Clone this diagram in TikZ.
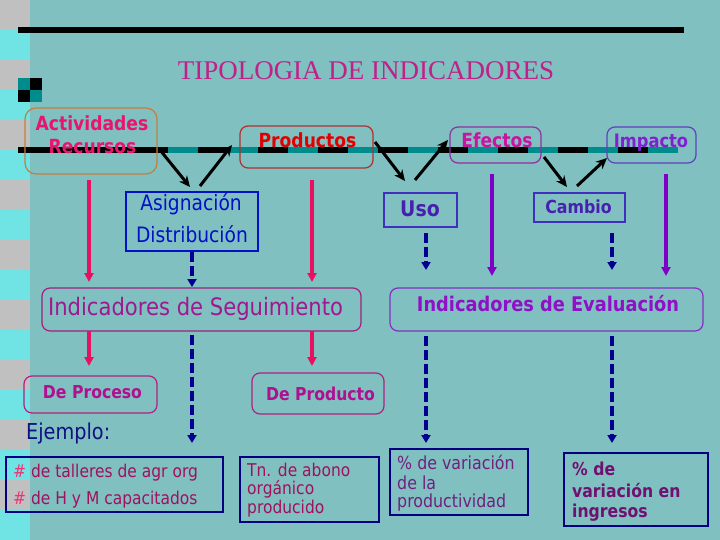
\documentclass[tikz,border=0pt]{standalone}
\usepackage{fontspec}
\setmainfont{Liberation Serif}
\newfontfamily\tah[FakeStretch=0.88]{DejaVu Sans}
\usetikzlibrary{arrows.meta}
\definecolor{bgc}{RGB}{128,192,192}
\definecolor{stripgray}{RGB}{192,192,192}
\definecolor{stripcyan}{RGB}{112,228,228}
\definecolor{tealc}{RGB}{0,140,140}
\definecolor{titlec}{RGB}{192,32,136}
\definecolor{acttxt}{RGB}{232,20,110}
\definecolor{actbrd}{RGB}{192,128,64}
\definecolor{prodtxt}{RGB}{224,0,0}
\definecolor{prodbrd}{RGB}{176,48,48}
\definecolor{efetxt}{RGB}{200,20,160}
\definecolor{efebrd}{RGB}{144,48,160}
\definecolor{imptxt}{RGB}{128,32,208}
\definecolor{impbrd}{RGB}{96,64,192}
\definecolor{asgc}{RGB}{0,16,200}
\definecolor{usotxt}{RGB}{72,32,176}
\definecolor{usobrd}{RGB}{64,48,192}
\definecolor{pinkc}{RGB}{232,16,96}
\definecolor{navyc}{RGB}{0,0,144}
\definecolor{purpc}{RGB}{128,0,200}
\definecolor{segtxt}{RGB}{160,24,144}
\definecolor{segbrd}{RGB}{160,32,128}
\definecolor{evaltxt}{RGB}{144,16,200}
\definecolor{evalbrd}{RGB}{128,48,192}
\definecolor{dptxt}{RGB}{176,16,144}
\definecolor{dpbrd}{RGB}{176,32,128}
\definecolor{ejc}{RGB}{16,16,128}
\definecolor{exbrd}{RGB}{0,0,128}
\definecolor{hashc}{RGB}{240,48,112}
\definecolor{ex1c}{RGB}{160,16,96}
\definecolor{ex3c}{RGB}{112,32,128}
\definecolor{ex4c}{RGB}{112,16,112}
\tikzset{
  txt/.style={inner sep=0pt, anchor=base},
  ltxt/.style={inner sep=0pt, anchor=base west},
  tb/.style={font=\tah\bfseries\fontsize{#1}{#1}\selectfont},
  tr/.style={font=\tah\fontsize{#1}{#1}\selectfont},
  rbox/.style={draw, rounded corners=8pt, line width=1.2pt, inner sep=0pt},
  sbox/.style={draw, line width=1.3pt, inner sep=0pt},
  blk/.style={draw=black, line width=3pt, -{Stealth[length=11pt,width=10pt]}},
  pinkarr/.style={draw=pinkc, line width=3.5pt, -{Triangle[length=9pt,width=9pt]}},
  purparr/.style={draw=purpc, line width=3.5pt, -{Triangle[length=9pt,width=9pt]}},
  navyarr/.style={draw=navyc, line width=4pt, dash pattern=on 10pt off 4pt, -{Triangle[length=8pt,width=9pt]}},
}
\begin{document}
\begin{tikzpicture}[x=1pt,y=-1pt]
\useasboundingbox (0,0) rectangle (720,540);
% background
\fill[bgc] (0,0) rectangle (720,540);
\fill[stripgray] (0,0) rectangle (30,540);
\foreach \i in {1,3,...,17} \fill[stripcyan] (0,{\i*30}) rectangle (30,{\i*30+30});
% top rule
\draw[line width=6pt] (18,30) -- (684,30);
% small checker
\fill[tealc] (18,78) rectangle (30,90);
\fill[black] (30,78) rectangle (42,90);
\fill[black] (18,90) rectangle (30,102);
\fill[tealc] (30,90) rectangle (42,102);
% title
\node[inner sep=0pt, anchor=base, text=titlec, font=\fontsize{27}{27}\selectfont] (title) at (366,80) {TIPOLOGIA DE INDICADORES};
% main dashed line
\draw[line width=6pt] (18,150) -- (678,150);
\foreach \x in {168,228,...,648} \draw[tealc, line width=6pt] (\x,150) -- ({\x+30},150);

% top row boxes
\node[rbox, draw=actbrd, rounded corners=11pt, minimum width=132pt, minimum height=66pt] (act) at (91,141) {};
\node[txt, tb=19.5, text=acttxt] (act1) at (92,131) {Actividades};
\node[txt, tb=19.5, text=acttxt] (act2) at (92.5,154) {Recursos};
\node[rbox, draw=prodbrd, minimum width=133pt, minimum height=42pt] (prod) at (306.5,147) {};
\node[txt, tb=19.5, text=prodtxt] (prodt) at (307.5,148) {Productos};
\node[rbox, draw=efebrd, minimum width=91pt, minimum height=36pt] (efe) at (495.5,145) {};
\node[txt, tb=19.5, text=efetxt] (efet) at (497,148) {Efectos};
\node[rbox, draw=impbrd, minimum width=89pt, minimum height=36pt] (imp) at (651.5,145) {};
\node[txt, tb=18.5, text=imptxt] (impt) at (651,148) {Impacto};

% second row boxes
\node[sbox, draw=asgc, minimum width=132pt, minimum height=59pt] (asg) at (192,221.5) {};
\node[txt, tr=21.2, text=asgc] (asg1) at (191,211) {Asignación};
\node[txt, tr=21.2, text=asgc] (asg2) at (192,243) {Distribución};
\node[sbox, draw=usobrd, minimum width=73pt, minimum height=34pt] (uso) at (420.5,210) {};
\node[txt, tb=21.5, text=usotxt] (usot) at (420,217) {Uso};
\node[sbox, draw=usobrd, minimum width=91pt, minimum height=29pt] (cam) at (579.5,207.5) {};
\node[txt, tb=18, text=usotxt] (camt) at (578.5,214) {Cambio};

% black V arrows
\coordinate (v1a) at (160,150); \coordinate (v1b) at (190,187);
\coordinate (v2a) at (200,186); \coordinate (v2b) at (232,145);
\coordinate (v3a) at (375,142); \coordinate (v3b) at (405,181);
\coordinate (v4a) at (415,180); \coordinate (v4b) at (448,140);
\coordinate (v5a) at (544,157); \coordinate (v5b) at (567,187);
\coordinate (v6a) at (577,186); \coordinate (v6b) at (607,158);
\draw[blk] (v1a) -- (v1b);
\draw[blk] (v2a) -- (v2b);
\draw[blk] (v3a) -- (v3b);
\draw[blk] (v4a) -- (v4b);
\draw[blk] (v5a) -- (v5b);
\draw[blk] (v6a) -- (v6b);

% indicator boxes
\node[rbox, draw=segbrd, minimum width=319pt, minimum height=43pt] (seg) at (201.5,309.5) {};
\node[txt, tr=24, text=segtxt] (segt) at (195.5,315) {Indicadores de Seguimiento};
\node[rbox, draw=evalbrd, minimum width=313pt, minimum height=43pt] (eval) at (546.5,309.5) {};
\node[txt, tb=20.2, text=evaltxt] (evalt) at (548,311) {Indicadores de Evaluación};

% vertical connectors
\coordinate (p1a) at (89,180); \coordinate (p1b) at (89,282);
\coordinate (p1c) at (89,331); \coordinate (p1d) at (89,366);
\coordinate (p2a) at (312,180); \coordinate (p2b) at (312,282);
\coordinate (p2c) at (312,331); \coordinate (p2d) at (312,366);
\draw[pinkarr] (p1a) -- (p1b);
\draw[pinkarr] (p1c) -- (p1d);
\draw[pinkarr] (p2a) -- (p2b);
\draw[pinkarr] (p2c) -- (p2d);
\coordinate (n1a) at (192,252); \coordinate (n1b) at (192,287);
\coordinate (n1c) at (192,335); \coordinate (n1d) at (192,443);
\coordinate (n2a) at (426,233); \coordinate (n2b) at (426,270);
\coordinate (n2c) at (426,336); \coordinate (n2d) at (426,443);
\coordinate (n3a) at (612,233); \coordinate (n3b) at (612,270);
\coordinate (n3c) at (612,336); \coordinate (n3d) at (612,443);
\draw[navyarr] (n1a) -- (n1b);
\draw[navyarr] (n1c) -- (n1d);
\draw[navyarr] (n2a) -- (n2b);
\draw[navyarr] (n2c) -- (n2d);
\draw[navyarr] (n3a) -- (n3b);
\draw[navyarr] (n3c) -- (n3d);
\coordinate (u1a) at (492,174); \coordinate (u1b) at (492,276);
\coordinate (u2a) at (666,174); \coordinate (u2b) at (666,276);
\draw[purparr] (u1a) -- (u1b);
\draw[purparr] (u2a) -- (u2b);

% De Proceso / De Producto
\node[rbox, draw=dpbrd, minimum width=133pt, minimum height=37pt] (dproc) at (90.5,394.5) {};
\node[txt, tb=17.8, text=dptxt] (dproct) at (92.5,398) {De Proceso};
\node[rbox, draw=dpbrd, minimum width=132pt, minimum height=41pt] (dprod) at (318,393.5) {};
\node[txt, tb=17.8, text=dptxt] (dprodt) at (320.5,400) {De Producto};

% Ejemplo
\node[ltxt, tr=21.9, text=ejc] (ej) at (26,439) {Ejemplo:};

% example boxes
\node[sbox, draw=exbrd, minimum width=217pt, minimum height=55pt] (ex1) at (114.5,484.5) {};
\node[ltxt, tr=17.6, text=ex1c] (ex1a) at (13,477) {\textcolor{hashc}{\#} de talleres de agr org};
\node[ltxt, tr=17.6, text=ex1c] (ex1b) at (13,504) {\textcolor{hashc}{\#} de H y M capacitados};
\node[sbox, draw=exbrd, minimum width=139pt, minimum height=65pt] (ex2) at (309.5,489.5) {};
\node[ltxt, tr=17.6, text=ex1c] (ex2a) at (247,476) {Tn. de abono};
\node[ltxt, tr=17.6, text=ex1c] (ex2b) at (247,494) {orgánico};
\node[ltxt, tr=17.6, text=ex1c] (ex2c) at (247,513) {producido};
\node[sbox, draw=exbrd, minimum width=138pt, minimum height=66pt] (ex3) at (459,482) {};
\node[ltxt, tr=18, text=ex3c] (ex3a) at (397,469) {\% de variación};
\node[ltxt, tr=18, text=ex3c] (ex3b) at (397,489) {de la};
\node[ltxt, tr=18, text=ex3c] (ex3c) at (397,507) {productividad};
\node[sbox, draw=exbrd, minimum width=144pt, minimum height=73pt] (ex4) at (636,489.5) {};
\node[ltxt, tb=17.8, text=ex4c] (ex4a) at (572,475) {\% de};
\node[ltxt, tb=17.8, text=ex4c] (ex4b) at (572,497) {variación en};
\node[ltxt, tb=17.8, text=ex4c] (ex4c) at (572,517) {ingresos};
\end{tikzpicture}
\end{document}
